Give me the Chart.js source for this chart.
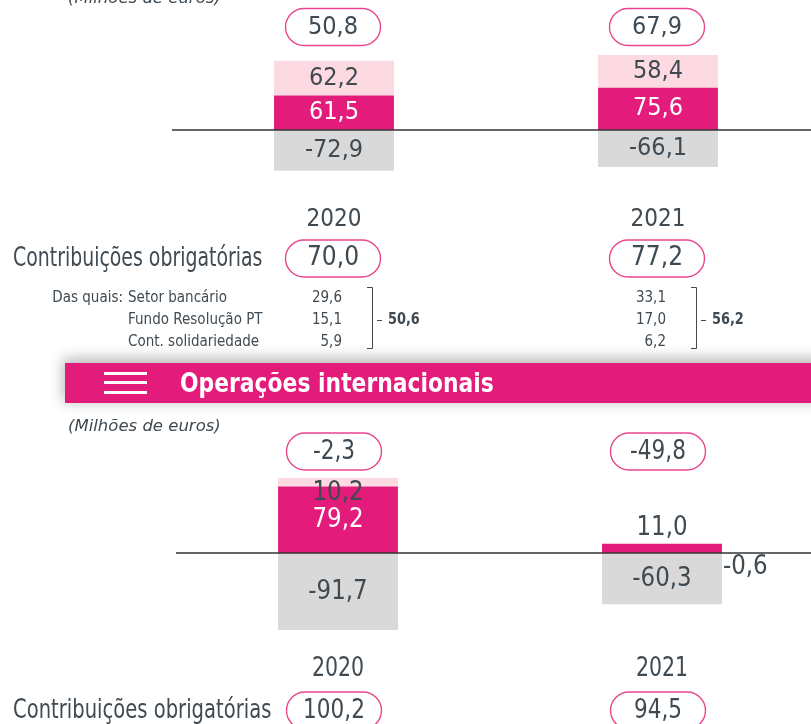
<!DOCTYPE html>
<html lang="pt">
<head>
<meta charset="utf-8">
<title>Contribuições obrigatórias</title>
<script src="https://cdn.jsdelivr.net/npm/chart.js@4.4.0/dist/chart.umd.min.js"></script>
<style>
  html, body { margin: 0; padding: 0; background: #fff; }
  body { width: 811px; height: 724px; overflow: hidden; position: relative; font-family: "DejaVu Sans", sans-serif; }
  canvas { position: absolute; left: 0; }
  #painelDom { top: 0; }
  #painelInt { top: 405px; }
  .cabecalho { position: absolute; left: 65px; top: 363px; width: 760px; height: 40px; background: #E31B7A;
               box-shadow: 0 -3px 14px 2px rgba(0, 0, 0, 0.28); }
  .cabecalho span { position: absolute; left: 39px; width: 43px; height: 3px; background: #fff; }
  .cabecalho .titulo { position: absolute; left: 115px; top: 0; line-height: 40px; color: #fff; font-weight: bold;
                       font-size: 27px; white-space: nowrap; transform: scaleX(0.81); transform-origin: left center; }
</style>
</head>
<body>
<canvas id="painelDom" width="830" height="355"></canvas>
<div class="cabecalho">
  <span style="top:9px"></span><span style="top:18px"></span><span style="top:28px"></span>
  <div class="titulo">Operações internacionais</div>
</div>
<canvas id="painelInt" width="830" height="319"></canvas>

<script>
// Data
const anos = ['2020', '2021'];

// painel superior
const domMargem = [61.5, 75.6];
const domOutros = [62.2, 58.4];
const domCustos = [-72.9, -66.1];
const domResultado = [50.8, 67.9];
const domContribuicoes = [70.0, 77.2];
const domSetorBancario = [29.6, 33.1];
const domFundoResolucao = [15.1, 17.0];
const domContSolidariedade = [5.9, 6.2];
const domSubtotal = [50.6, 56.2];

// Operações internacionais
const intMargem = [79.2, 11.0];
const intOutros = [10.2, -0.6];
const intCustos = [-91.7, -60.3];
const intResultado = [-2.3, -49.8];
const intContribuicoes = [100.2, 94.5];

// Styles
const ROSA = '#E31B7A';
const ROSA_CLARO = '#FDD9E2';
const CINZA = '#D9D9D9';
const TEXTO = '#3F4A52';
const CONTORNO = '#E8458D';
const FONTE = '"DejaVu Sans"';

function fmt(v) {
    return v.toFixed(1).replace('.', ',');
}

// draw text, optionally squeezed horizontally
function texto(ctx, str, x, y, size, color, align, sx, estilo) {
    ctx.save();
    ctx.font = (estilo || '') + ' ' + size + 'px ' + FONTE;
    ctx.fillStyle = color;
    ctx.textBaseline = 'middle';
    ctx.textAlign = align || 'center';
    ctx.translate(x, y);
    ctx.scale(sx || 1, 1);
    ctx.fillText(str, 0, 0);
    ctx.restore();
}

function pilula(ctx, cx, cy) {
    const w = 95, h = 37, r = h / 2;
    const x = cx - w / 2, y = cy - h / 2;
    ctx.save();
    ctx.beginPath();
    ctx.moveTo(x + r, y);
    ctx.lineTo(x + w - r, y);
    ctx.arc(x + w - r, cy, r, -Math.PI / 2, Math.PI / 2);
    ctx.lineTo(x + r, y + h);
    ctx.arc(x + r, cy, r, Math.PI / 2, Math.PI * 1.5);
    ctx.closePath();
    ctx.fillStyle = '#fff';
    ctx.fill();
    ctx.strokeStyle = CONTORNO;
    ctx.lineWidth = 1.4;
    ctx.stroke();
    ctx.restore();
}

function painelPlugin(cfg) {
    return {
        id: 'painel',
        afterDatasetsDraw(chart) {
            const ctx = chart.ctx;
            const area = chart.chartArea;
            const y0 = chart.scales.y.getPixelForValue(0);

            // zero line
            ctx.save();
            ctx.strokeStyle = '#333';
            ctx.lineWidth = 1.5;
            ctx.beginPath();
            ctx.moveTo(area.left, y0);
            ctx.lineTo(area.right, y0);
            ctx.stroke();
            ctx.restore();

            // value labels
            chart.data.datasets.forEach((ds, di) => {
                chart.getDatasetMeta(di).data.forEach((bar, i) => {
                    const v = ds.data[i];
                    const h = Math.abs(bar.base - bar.y);
                    let x = bar.x, y = (bar.y + bar.base) / 2, align = 'center';
                    let cor = di === 0 ? '#fff' : TEXTO;
                    if (h < 14) {
                        cor = TEXTO;
                        if (v < 0) {
                            x = bar.x + bar.width / 2 + 1;
                            y = bar.base + 14;
                            align = 'left';
                        } else if (di === 0) {
                            y = bar.y - 16;
                        } else {
                            y += 10.5;
                        }
                    }
                    texto(ctx, fmt(v), x, y, cfg.valSize, cor, align, cfg.valSx);
                });
            });
        },
        afterDraw(chart) {
            const ctx = chart.ctx;
            const xs = chart.scales.x;

            texto(ctx, '(Milhões de euros)', 68, cfg.unidadeY, 16.5, TEXTO, 'left', 1, 'italic');
            texto(ctx, 'Contribuições obrigatórias', 13, cfg.contribY, 27, TEXTO, 'left', cfg.labelSx);

            anos.forEach((ano, i) => {
                const cx = xs.getPixelForValue(i);
                const px = cx + cfg.pillDx;

                pilula(ctx, px, cfg.pillY);
                texto(ctx, fmt(cfg.resultado[i]), px, cfg.pillY, cfg.valSize, TEXTO, 'center', cfg.pillSx);

                texto(ctx, ano, cx, cfg.anoY, cfg.anoSize, TEXTO, 'center', cfg.anoSx);

                pilula(ctx, px, cfg.contribY);
                texto(ctx, fmt(cfg.contribuicoes[i]), px, cfg.contribY, cfg.contribSize, TEXTO, 'center', cfg.contribSx);

                if (cfg.tabela) {
                    const linhas = cfg.tabela;
                    const rowY = [298, 320, 342];
                    linhas.forEach((l, r) => {
                        if (i === 0) {
                            if (l[0]) texto(ctx, l[0], 123, rowY[r], 15, TEXTO, 'right', 0.9);
                            texto(ctx, l[1], 128, rowY[r], 15, TEXTO, 'left', 0.9);
                        }
                        texto(ctx, fmt(l[2][i]), cx + 8, rowY[r], 15, TEXTO, 'right', 0.9);
                    });
                    // bracket
                    ctx.save();
                    ctx.strokeStyle = TEXTO;
                    ctx.lineWidth = 1;
                    ctx.beginPath();
                    ctx.moveTo(cx + 33, 287.5);
                    ctx.lineTo(cx + 38.5, 287.5);
                    ctx.lineTo(cx + 38.5, 348.5);
                    ctx.lineTo(cx + 33, 348.5);
                    ctx.moveTo(cx + 43, 320.5);
                    ctx.lineTo(cx + 48, 320.5);
                    ctx.stroke();
                    ctx.restore();
                    texto(ctx, fmt(cfg.subtotal[i]), cx + 54, 320, 15, TEXTO, 'left', 0.86, 'bold');
                }
            });
        }
    };
}

function criarPainel(id, margem, outros, custos, esc, cfg) {
    return new Chart(document.getElementById(id), {
        type: 'bar',
        data: {
            labels: anos,
            datasets: [
                { label: 'Margem', data: margem, backgroundColor: ROSA },
                { label: 'Outros', data: outros, backgroundColor: ROSA_CLARO },
                { label: 'Custos', data: custos, backgroundColor: CINZA }
            ]
        },
        options: {
            responsive: false,
            animation: false,
            layout: { padding: esc.padding },
            datasets: { bar: { barPercentage: 0.37, categoryPercentage: 1 } },
            plugins: { legend: { display: false }, tooltip: { enabled: false } },
            scales: {
                x: { display: false, stacked: true },
                y: { display: false, stacked: true, min: esc.min, max: esc.max }
            }
        },
        plugins: [painelPlugin(cfg)]
    });
}

document.addEventListener('DOMContentLoaded', () => {
    criarPainel('painelDom', domMargem, domOutros, domCustos,
        { padding: { left: 172, right: 10, top: 0, bottom: 65 }, min: -285.7, max: 232.1 },
        {
            resultado: domResultado, contribuicoes: domContribuicoes,
            tabela: [
                ['Das quais:', 'Setor bancário', domSetorBancario],
                ['', 'Fundo Resolução PT', domFundoResolucao],
                ['', 'Cont. solidariedade', domContSolidariedade]
            ],
            subtotal: domSubtotal,
            unidadeY: -1, pillY: 27, pillDx: -1, anoY: 219, contribY: 258.5,
            valSize: 25, valSx: 0.9, pillSx: 0.9, anoSize: 25, anoSx: 0.865,
            contribSize: 26, contribSx: 0.9, labelSx: 0.70
        });

    criarPainel('painelInt', intMargem, intOutros, intCustos,
        { padding: { left: 176, right: 6, top: 0, bottom: 0 }, min: -203.6, max: 176.2 },
        {
            resultado: intResultado, contribuicoes: intContribuicoes,
            unidadeY: 22, pillY: 46.5, pillDx: -4, anoY: 264, contribY: 305.5,
            valSize: 27, valSx: 0.85, pillSx: 0.8, anoSize: 27, anoSx: 0.76,
            contribSize: 27, contribSx: 0.8, labelSx: 0.725
        });
});
</script>
</body>
</html>
